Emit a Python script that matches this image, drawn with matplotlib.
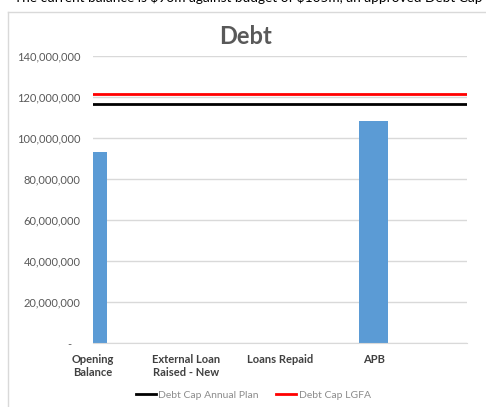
import matplotlib

matplotlib.use("Agg")
import matplotlib.pyplot as plt
from matplotlib.lines import Line2D
from matplotlib.ticker import FuncFormatter, MultipleLocator

plt.rcParams["font.family"] = ["Lato", "DejaVu Sans"]

# data
categories = ["Opening\nBalance", "External Loan\nRaised - New", "Loans Repaid", "APB", ""]
debt_values = [93_200_000, 0, 0, 108_300_000, 0]
debt_cap_annual_plan = 116_600_000
debt_cap_lgfa = 121_700_000
title = "Debt"
caption = "The current balance is $93m against budget of $105m, an approved Debt Cap of $122m"

W, H = 486, 407
fig = plt.figure(figsize=(W / 100, H / 100), dpi=100)

# chart frame (only top and left edges visible in the crop)
frame_col = "#d9d9d9"
fig.add_artist(Line2D([8 / W, 8 / W], [0, 1 - 12 / H], color=frame_col, lw=1))
fig.add_artist(Line2D([8 / W, 1], [1 - 12 / H, 1 - 12 / H], color=frame_col, lw=1))

# text line above the chart, cut off by the top of the image
fig.text(14 / W, 1 + 3 / H, caption, ha="left", va="center", fontsize=9.8, color="#000000")

ax = fig.add_axes([93 / W, 1 - 343 / H, (467 - 93) / W, (343 - 56) / H])
x = list(range(len(categories)))
ax.bar(x, debt_values, width=0.31, color="#5b9bd5", zorder=2)
ax.axhline(debt_cap_annual_plan, color="#000000", lw=2, zorder=3, label="Debt Cap Annual Plan")
ax.axhline(debt_cap_lgfa, color="#ff0000", lw=2, zorder=3, label="Debt Cap LGFA")

ax.set_xlim(0, 4)
ax.set_ylim(0, 140_000_000)
ax.yaxis.set_major_locator(MultipleLocator(20_000_000))
ax.yaxis.set_major_formatter(FuncFormatter(lambda v, p: "-   " if v == 0 else f"{v:,.0f}"))
ax.grid(axis="y", color="#d9d9d9", lw=1, zorder=0)
ax.set_axisbelow(True)
for s in ["top", "right", "left"]:
    ax.spines[s].set_visible(False)
ax.spines["bottom"].set_color("#d9d9d9")
ax.spines["bottom"].set_zorder(4)

ax.set_xticks(x[:4])
ax.set_xticklabels(categories[:4], fontsize=8, fontweight="bold", color="#404040")
ax.tick_params(axis="x", length=0, pad=8)
ax.tick_params(axis="y", length=0, pad=9, labelsize=8, labelcolor="#595959")

fig.text(245 / W, 1 - 37 / H, title, ha="center", va="center", fontsize=17, fontweight="bold", color="#595959")

leg = fig.legend(
    loc="center", bbox_to_anchor=(253 / W, 1 - 395 / H), ncol=2, frameon=False, fontsize=7.5,
    handlelength=2.0, handletextpad=0.2, columnspacing=1.6,
)
for t in leg.get_texts():
    t.set_color("#8c8c8c")

fig.savefig("out.png", dpi=100)
